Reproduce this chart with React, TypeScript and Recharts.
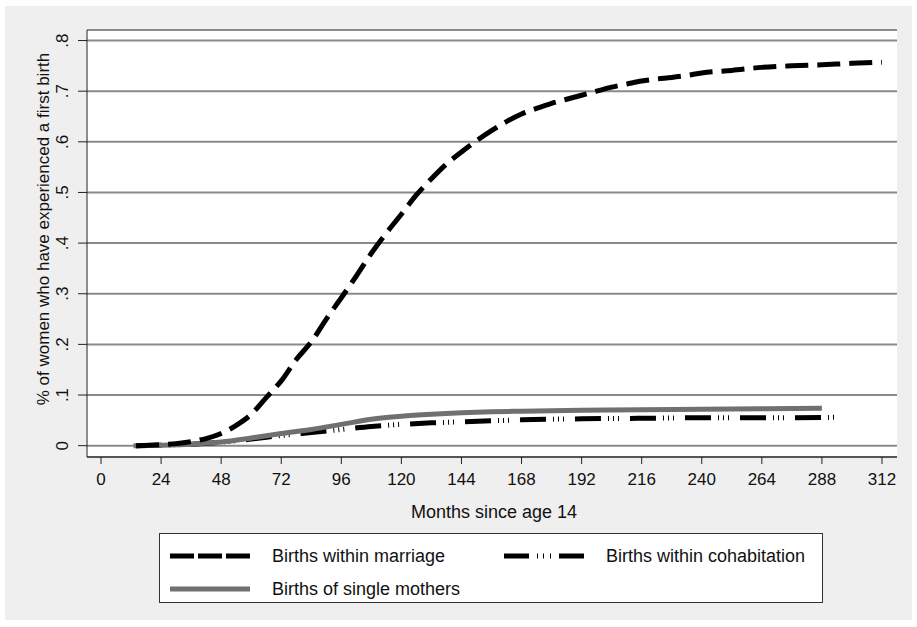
import { LineChart, Line, XAxis, YAxis, CartesianGrid } from "recharts"

// months since age 14 / share of women with a first birth
const marriageMonths = [14, 24, 30, 36, 42, 48, 54, 60, 66, 72, 78, 84, 90, 96, 102, 108, 114, 120, 126, 132, 138, 144, 150, 156, 162, 168, 174, 180, 186, 192, 198, 204, 210, 216, 222, 228, 234, 240, 252, 264, 276, 288, 300, 312]
const marriageValues = [0, 0.002, 0.004, 0.008, 0.014, 0.024, 0.04, 0.062, 0.095, 0.128, 0.17, 0.205, 0.25, 0.292, 0.335, 0.38, 0.42, 0.457, 0.495, 0.527, 0.556, 0.58, 0.602, 0.622, 0.64, 0.655, 0.666, 0.676, 0.684, 0.692, 0.7, 0.708, 0.714, 0.72, 0.724, 0.727, 0.731, 0.736, 0.741, 0.747, 0.75, 0.752, 0.755, 0.757]

const cohabMonths = [14, 24, 36, 48, 60, 72, 84, 96, 108, 120, 132, 144, 156, 168, 192, 216, 240, 264, 294]
const cohabValues = [0, 0.001, 0.003, 0.007, 0.013, 0.02, 0.026, 0.032, 0.038, 0.042, 0.045, 0.047, 0.049, 0.051, 0.053, 0.054, 0.055, 0.055, 0.056]

const singleMonths = [13, 24, 36, 48, 60, 72, 84, 96, 108, 120, 132, 144, 156, 168, 180, 192, 216, 240, 264, 288]
const singleValues = [0, 0.001, 0.003, 0.007, 0.015, 0.024, 0.032, 0.042, 0.052, 0.058, 0.062, 0.065, 0.067, 0.068, 0.069, 0.07, 0.071, 0.072, 0.073, 0.074]

const xTicks = [0, 24, 48, 72, 96, 120, 144, 168, 192, 216, 240, 264, 288, 312]
const yTicks = [0, 0.1, 0.2, 0.3, 0.4, 0.5, 0.6, 0.7, 0.8]

const seriesNames = ["Births within marriage", "Births within cohabitation", "Births of single mothers"]

const toRows = (months: number[], values: number[]) => months.map((m, i) => ({ m, v: values[i] }))

const FONT = "'Liberation Sans', Arial, sans-serif"
const MARRIAGE_DASH = "23 9"
const COHAB_DASH = "26 7 1 4 1 4 1 11"

const fmtY = (v: number) => (v === 0 ? "0" : "." + Math.round(v * 10))

const YTick = (props: any) => {
  const { x, y, payload } = props
  const tx = x - 8
  return (
    <text x={tx} y={y} textAnchor="middle" transform={`rotate(-90 ${tx} ${y})`} fontSize={17} fill="#111" fontFamily={FONT}>
      {fmtY(payload.value)}
    </text>
  )
}

const Sample = ({ kind }: { kind: number }) => (
  <svg width={80} height={8} style={{ display: "block" }}>
    {kind === 0 && <line x1={0} y1={4} x2={80} y2={4} stroke="#000" strokeWidth={5} strokeDasharray="24 4" />}
    {kind === 1 && <line x1={0} y1={4} x2={80} y2={4} stroke="#000" strokeWidth={5} strokeDasharray="25 8 1 5 1 6 1 8 26" />}
    {kind === 2 && <line x1={0} y1={4} x2={80} y2={4} stroke="#707070" strokeWidth={5} />}
  </svg>
)

export default function App() {
  const marriage = toRows(marriageMonths, marriageValues)
  const cohab = toRows(cohabMonths, cohabValues)
  const single = toRows(singleMonths, singleValues)

  return (
    <div style={{ position: "absolute", left: 0, top: 0, width: 917, height: 627, background: "#fff", fontFamily: FONT }}>
      <div style={{ position: "absolute", left: 5, top: 6, width: 907, height: 614, background: "#efefef" }} />
      <div style={{ position: "absolute", left: 0, top: 0 }}>
        <LineChart width={917} height={627} margin={{ top: 30, right: 20, left: 27, bottom: 140 }}>
          <CartesianGrid vertical={false} stroke="#8a8a8a" strokeWidth={2} fill="#fff" fillOpacity={1} />
          <XAxis
            type="number"
            dataKey="m"
            domain={[-5.6, 318]}
            ticks={xTicks}
            allowDataOverflow
            height={30}
            tickSize={7}
            tickMargin={9}
            stroke="#222"
            tick={{ fontSize: 17, fill: "#111", fontFamily: FONT }}
            label={{
              content: () => (
                <text x={494} y={518} textAnchor="middle" fontSize={18} fill="#111" fontFamily={FONT}>
                  Months since age 14
                </text>
              ),
            }}
          />
          <YAxis
            type="number"
            dataKey="v"
            domain={[-0.0224, 0.8208]}
            ticks={yTicks}
            allowDataOverflow
            width={60}
            tickSize={9}
            tickMargin={2}
            stroke="#222"
            tick={<YTick />}
            label={{
              content: () => (
                <text x={49} y={229} textAnchor="middle" transform="rotate(-90 49 229)" fontSize={17} fill="#111" fontFamily={FONT}>
                  % of women who have experienced a first birth
                </text>
              ),
            }}
          />
          <Line data={cohab} dataKey="v" name={seriesNames[1]} type="monotone" stroke="#000" strokeWidth={5} strokeDasharray={COHAB_DASH} dot={false} isAnimationActive={false} />
          <Line data={single} dataKey="v" name={seriesNames[2]} type="monotone" stroke="#707070" strokeWidth={5} dot={false} isAnimationActive={false} />
          <Line data={marriage} dataKey="v" name={seriesNames[0]} type="monotone" stroke="#000" strokeWidth={5} strokeDasharray={MARRIAGE_DASH} dot={false} isAnimationActive={false} />
        </LineChart>
      </div>
      <div
        style={{
          position: "absolute",
          left: 159,
          top: 533,
          width: 662,
          height: 68,
          background: "#fff",
          border: "1px solid #333",
          fontSize: 18,
          color: "#111",
        }}
      >
        <div style={{ position: "absolute", left: 10, top: 18, display: "flex", alignItems: "center" }}>
          <Sample kind={0} />
          <span style={{ marginLeft: 22, lineHeight: "8px" }}>{seriesNames[0]}</span>
        </div>
        <div style={{ position: "absolute", left: 344, top: 18, display: "flex", alignItems: "center" }}>
          <Sample kind={1} />
          <span style={{ marginLeft: 22, lineHeight: "8px" }}>{seriesNames[1]}</span>
        </div>
        <div style={{ position: "absolute", left: 10, top: 51, display: "flex", alignItems: "center" }}>
          <Sample kind={2} />
          <span style={{ marginLeft: 22, lineHeight: "8px" }}>{seriesNames[2]}</span>
        </div>
      </div>
    </div>
  )
}
